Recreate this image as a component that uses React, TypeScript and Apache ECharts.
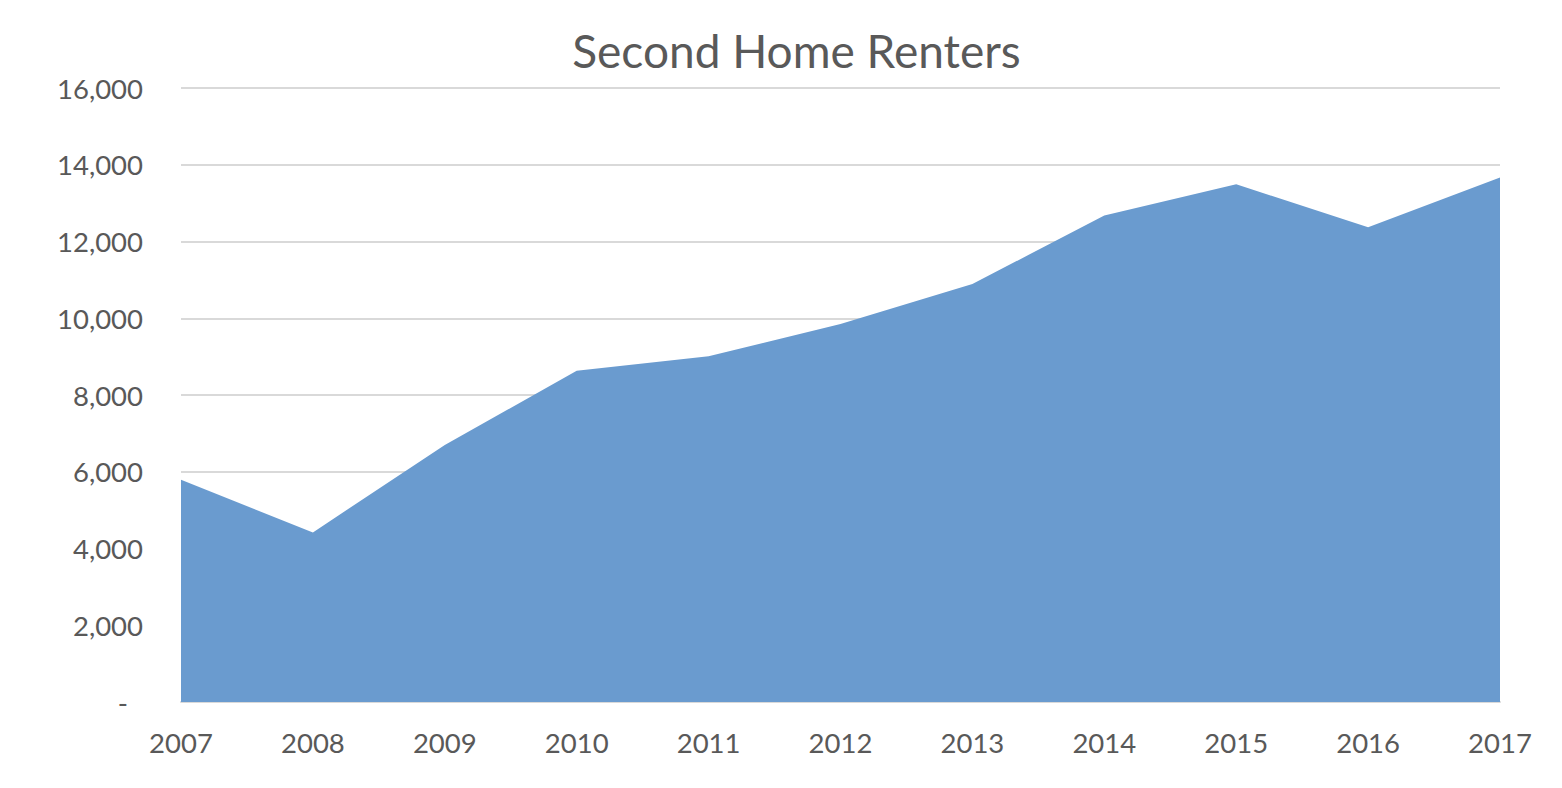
import React, { useEffect, useRef } from "react";
import * as echarts from "echarts";

const years = ["2007", "2008", "2009", "2010", "2011", "2012", "2013", "2014", "2015", "2016", "2017"];
const renters = [5790, 4420, 6700, 8630, 9010, 9850, 10890, 12680, 13490, 12370, 13670];
const title = "Second Home Renters";

const FONT = "Lato, 'Open Sans', sans-serif";
const TEXT = "#595959";

export default function App() {
  const ref = useRef<HTMLDivElement>(null);
  useEffect(() => {
    if (!ref.current) return;
    const chart = echarts.init(ref.current, null, { renderer: "svg" });
    chart.setOption({
      animation: false,
      graphic: [
        {
          type: "text",
          x: 788.5,
          y: 42,
          style: {
            text: title,
            fill: TEXT,
            font: `46px ${FONT}`,
            textAlign: "center",
            textVerticalAlign: "middle",
          },
        },
      ],
      grid: { left: 173, right: 54, top: 80, bottom: 78, containLabel: false },
      xAxis: {
        type: "category",
        data: years,
        boundaryGap: false,
        axisLine: { show: true, lineStyle: { color: "#d9d9d9", width: 2 } },
        axisTick: { show: false },
        axisLabel: { color: TEXT, fontSize: 27.5, fontFamily: FONT, margin: 26 },
        splitLine: { show: false },
      },
      yAxis: {
        type: "value",
        min: 0,
        max: 16000,
        interval: 2000,
        axisLine: { show: false },
        axisTick: { show: false },
        axisLabel: {
          color: TEXT,
          fontSize: 27.5,
          fontFamily: FONT,
          margin: 38,
          formatter: (v: number) => (v === 0 ? "{d|-}" : v.toLocaleString("en-US")),
          rich: { d: { color: TEXT, fontSize: 27.5, fontFamily: FONT, padding: [0, 15, 0, 0] } },
        },
        splitLine: { show: true, lineStyle: { color: "#d9d9d9", width: 2 } },
      },
      series: [
        {
          type: "line",
          data: renters,
          symbol: "none",
          lineStyle: { width: 0 },
          areaStyle: { color: "#6a9bcf", opacity: 1 },
          itemStyle: { color: "#6a9bcf" },
        },
      ],
    });
    return () => chart.dispose();
  }, []);
  return <div ref={ref} style={{ width: 1546, height: 772 }} />;
}
